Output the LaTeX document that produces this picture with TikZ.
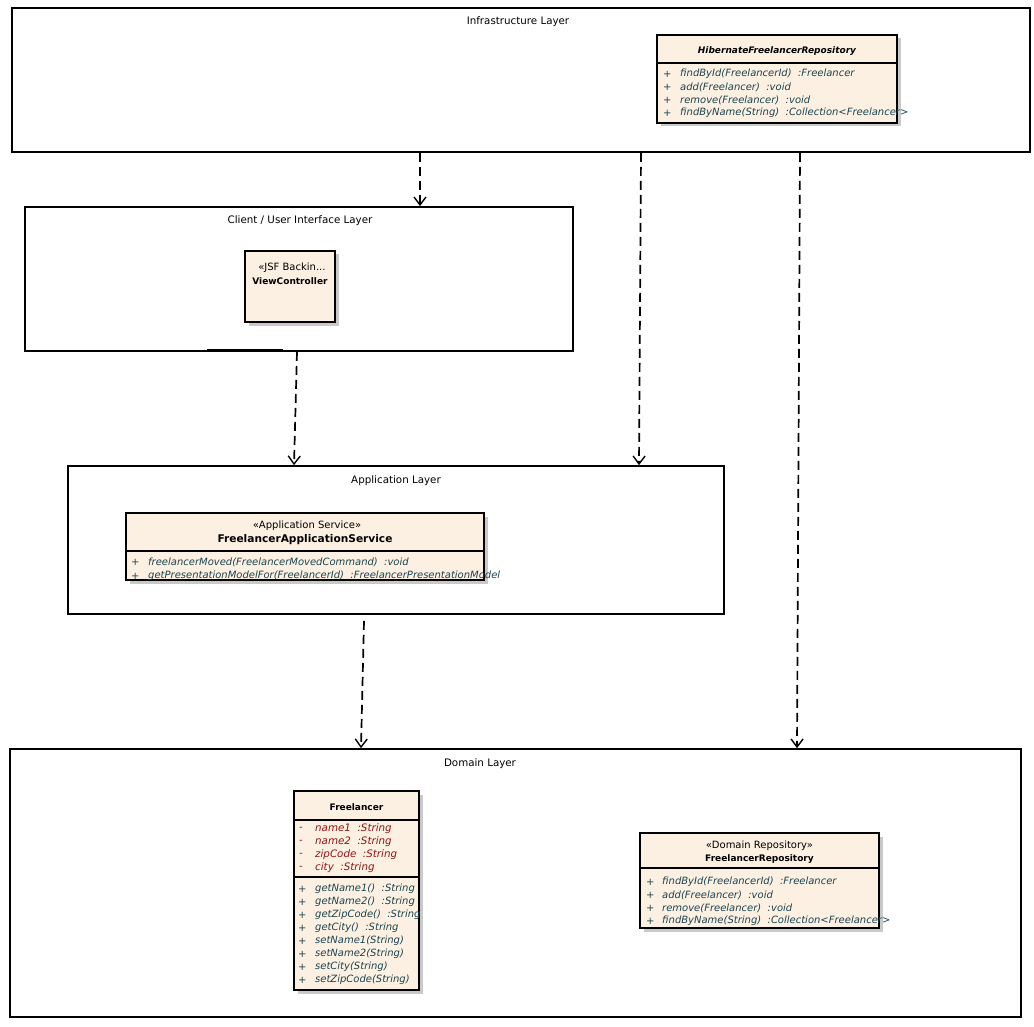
\documentclass[tikz,border=0pt]{standalone}
\usepackage{fontspec}
\setmainfont{DejaVu Sans}
\usetikzlibrary{arrows.meta,shadows}
\definecolor{classfill}{RGB}{251,240,226}
\definecolor{memcol}{RGB}{28,68,80}
\definecolor{attrcol}{RGB}{140,22,22}
\begin{document}
\begin{tikzpicture}[x=1pt,y=-1pt,
  layer/.style={draw, line width=1.7pt, inner sep=0pt},
  title/.style={font=\fontsize{10.3}{12}\selectfont, inner sep=0pt},
  cls/.style={draw, line width=1.4pt, fill=classfill, inner sep=0pt,
    drop shadow={shadow xshift=3.5pt, shadow yshift=-3.5pt, fill=black!30, opacity=0.7}},
  sep/.style={line width=1.4pt},
  clsname/.style={font=\fontsize{9}{10}\selectfont\bfseries, inner sep=0pt},
  stereo/.style={font=\fontsize{10}{11}\selectfont, inner sep=0pt},
  vis/.style={font=\fontsize{10}{11}\selectfont, text=memcol, anchor=west, inner sep=0pt},
  mem/.style={font=\fontsize{10}{11}\selectfont\itshape, text=memcol, anchor=west, inner sep=0pt},
  avis/.style={font=\fontsize{10}{11}\selectfont, text=attrcol, anchor=west, inner sep=0pt},
  attr/.style={font=\fontsize{10.3}{11}\selectfont\itshape, text=attrcol, anchor=west, inner sep=0pt},
  dep/.style={draw, line width=1.7pt, dash pattern=on 9pt off 5pt,
    -{Straight Barb[length=8pt,width=12pt,line width=1.4pt]}}
]
\useasboundingbox (0,0) rectangle (1034,1027);

% ---------- Layers ----------
\node[layer, minimum width=1018pt, minimum height=144pt] (infra) at (521,80) {};
\node[title] (infraT) at (518,22) {Infrastructure Layer};

\node[layer, minimum width=548pt, minimum height=144pt] (client) at (299,279) {};
\node[title] (clientT) at (300,221) {Client / User Interface Layer};

\node[layer, minimum width=656pt, minimum height=148pt] (app) at (396,540) {};
\node[title] (appT) at (396,481) {Application Layer};

\node[layer, minimum width=1011pt, minimum height=268pt] (domain) at (515.5,883) {};
\node[title] (domainT) at (480,764) {Domain Layer};

% ---------- HibernateFreelancerRepository ----------
\node[cls, minimum width=240pt, minimum height=88pt] (hib) at (777,79) {};
\node[clsname] (hibN) at (777,51) {\itshape HibernateFreelancerRepository};
\draw[sep] (hib.west |- 0,63) -- (hib.east |- 0,63);
\node[vis] (hv1) at (663,74) {+};
\node[mem] (hm1) at (680,74) {findById(FreelancerId)\ \ :Freelancer};
\node[vis] (hv2) at (663,87) {+};
\node[mem] (hm2) at (680,87) {add(Freelancer)\ \ :void};
\node[vis] (hv3) at (663,100) {+};
\node[mem] (hm3) at (680,100) {remove(Freelancer)\ \ :void};
\node[vis] (hv4) at (663,113) {+};
\node[mem] (hm4) at (680,113) {findByName(String)\ \ :Collection<Freelancer>};

% ---------- ViewController ----------
\node[cls, minimum width=90pt, minimum height=71pt] (vc) at (290,286.5) {};
\node[stereo] (vcS) at (292,268) {«JSF Backin...};
\node[clsname] (vcN) at (290,281) {ViewController};

% ---------- FreelancerApplicationService ----------
\node[cls, minimum width=358pt, minimum height=67pt] (fas) at (305,546.5) {};
\node[stereo] (fasS) at (307,526) {«Application Service»};
\node[clsname, font=\fontsize{10.6}{12}\selectfont\bfseries] (fasN) at (305,540) {FreelancerApplicationService};
\draw[sep] (fas.west |- 0,551) -- (fas.east |- 0,551);
\node[vis] (fv1) at (131,562) {+};
\node[mem] (fm1) at (148,562) {freelancerMoved(FreelancerMovedCommand)\ \ :void};
\node[vis] (fv2) at (131,576) {+};
\node[mem] (fm2) at (148,576) {getPresentationModelFor(FreelancerId)\ \ :FreelancerPresentationModel};
\draw[line width=2.6pt] (228,513) -- (283,513);

% ---------- Freelancer ----------
\node[cls, minimum width=125pt, minimum height=199pt] (fl) at (356.5,890.5) {};
\node[clsname] (flN) at (356.5,807) {Freelancer};
\draw[sep] (fl.west |- 0,820) -- (fl.east |- 0,820);
\draw[sep] (fl.west |- 0,877) -- (fl.east |- 0,877);
\node[avis] (fa1v) at (299,829) {-};
\node[attr] (fa1) at (315,829) {name1\ \ :String};
\node[avis] (fa2v) at (299,842) {-};
\node[attr] (fa2) at (315,842) {name2\ \ :String};
\node[avis] (fa3v) at (299,855) {-};
\node[attr] (fa3) at (315,855) {zipCode\ \ :String};
\node[avis] (fa4v) at (299,868) {-};
\node[attr] (fa4) at (315,868) {city\ \ :String};
\node[vis] (fo1v) at (298,889) {+};
\node[mem] (fo1) at (315,889) {getName1()\ \ :String};
\node[vis] (fo2v) at (298,902) {+};
\node[mem] (fo2) at (315,902) {getName2()\ \ :String};
\node[vis] (fo3v) at (298,915) {+};
\node[mem] (fo3) at (315,915) {getZipCode()\ \ :String};
\node[vis] (fo4v) at (298,928) {+};
\node[mem] (fo4) at (315,928) {getCity()\ \ :String};
\node[vis] (fo5v) at (298,941) {+};
\node[mem] (fo5) at (315,941) {setName1(String)};
\node[vis] (fo6v) at (298,954) {+};
\node[mem] (fo6) at (315,954) {setName2(String)};
\node[vis] (fo7v) at (298,967) {+};
\node[mem] (fo7) at (315,967) {setCity(String)};
\node[vis] (fo8v) at (298,980) {+};
\node[mem] (fo8) at (315,980) {setZipCode(String)};

% ---------- FreelancerRepository ----------
\node[cls, minimum width=239pt, minimum height=95pt] (fr) at (759.5,880.5) {};
\node[stereo] (frS) at (759.5,846) {«Domain Repository»};
\node[clsname] (frN) at (759.5,859) {FreelancerRepository};
\draw[sep] (fr.west |- 0,868) -- (fr.east |- 0,868);
\node[vis] (rv1) at (646,882) {+};
\node[mem] (rm1) at (662,882) {findById(FreelancerId)\ \ :Freelancer};
\node[vis] (rv2) at (646,895) {+};
\node[mem] (rm2) at (662,895) {add(Freelancer)\ \ :void};
\node[vis] (rv3) at (646,908) {+};
\node[mem] (rm3) at (662,908) {remove(Freelancer)\ \ :void};
\node[vis] (rv4) at (646,921) {+};
\node[mem] (rm4) at (662,921) {findByName(String)\ \ :Collection<Freelancer>};

% sketch accents
\draw[line width=2.8pt] (207,350) -- (283,350);

% ---------- Dependencies ----------
\draw[dep] (infra.south -| 420,0) -- (client.north -| 420,0);
\draw[dep] (client.south -| 297,0) -- (app.north -| 294,0);
\draw[dep] (infra.south -| 641,0) -- (app.north -| 639,0);
\draw[dep] (infra.south -| 800,0) -- (domain.north -| 797,0);
\draw[dep] ([yshift=-6pt]app.south -| 364,0) -- (domain.north -| 361,0);
\end{tikzpicture}
\end{document}
